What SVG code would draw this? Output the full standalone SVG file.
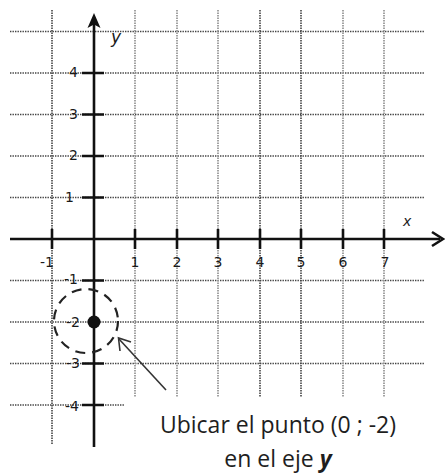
<svg xmlns="http://www.w3.org/2000/svg" width="445" height="475" viewBox="0 0 445 475">
<style>
.gd{stroke:#444;stroke-width:1.6;stroke-dasharray:1.4 1.1;fill:none}
.gl{stroke:#999;stroke-width:1.8;stroke-dasharray:1.4 1.1;fill:none}
.ax{stroke:#111;stroke-width:2.6;fill:none}
.tk{stroke:#111;stroke-width:2.6}
.num{font-family:"DejaVu Sans",Verdana,sans-serif;font-size:14px;fill:#1a1a1a}
.var{font-family:"DejaVu Sans",sans-serif;font-style:italic;fill:#1a1a1a}
.cap{font-family:"Open Sans","Liberation Sans",sans-serif;font-size:23px;fill:#1e1e1e}
</style>
<rect width="445" height="475" fill="#fff"/>
<g id="grid">
<path class="gd" d="M10 31.5H425M10 73H425M10 114.5H425M10 156H425M10 197.5H425M10 280.5H425M10 322H425M10 363.5H425M10 405H124"/>
<path class="gd" d="M52 10V445M260 10V397M301 10V397"/>
<path class="gl" d="M135 10V397M177 10V397M218 10V397M343 10V397M384 10V397"/>
</g>
<g id="axes">
<line class="ax" x1="94" y1="447" x2="94" y2="22"/>
<polygon points="94,13 87.5,28 94,24.5 100.5,28" fill="#111"/>
<line class="ax" x1="10" y1="239" x2="440" y2="239"/>
<polyline points="432,232 443,239 432,246" fill="none" stroke="#111" stroke-width="2.6"/>
<path class="tk" d="M82 73H104M82 114.5H104M82 156H104M82 197.5H104M82 280.5H104M82 363.5H104M82 405H104"/>
<path class="tk" d="M52 229V249M135 229V249M177 229V249M218 229V249M260 229V249M301 229V249M343 229V249M384 229V249"/>
</g>
<g id="labels">
<text class="num" x="78" y="77" text-anchor="end">4</text>
<text class="num" x="78" y="118.5" text-anchor="end">3</text>
<text class="num" x="78" y="160" text-anchor="end">2</text>
<text class="num" x="74" y="202" text-anchor="end">1</text>
<text class="num" x="78" y="284" text-anchor="end">-1</text>
<text class="num" x="80" y="327" text-anchor="end">-2</text>
<text class="num" x="80" y="368" text-anchor="end">-3</text>
<text class="num" x="79" y="411" text-anchor="end">-4</text>
<text class="num" x="54" y="267" text-anchor="end">-1</text>
<text class="num" x="135" y="267" text-anchor="middle">1</text>
<text class="num" x="177" y="267" text-anchor="middle">2</text>
<text class="num" x="218" y="267" text-anchor="middle">3</text>
<text class="num" x="260" y="267" text-anchor="middle">4</text>
<text class="num" x="301" y="267" text-anchor="middle">5</text>
<text class="num" x="343" y="267" text-anchor="middle">6</text>
<text class="num" x="385" y="267" text-anchor="middle">7</text>
<text class="var" x="111" y="43" font-size="17">y</text>
<text class="var" x="403" y="226" font-size="14">x</text>
</g>
<g id="point">
<circle cx="86" cy="321" r="32" fill="none" stroke="#222" stroke-width="2.2" stroke-dasharray="10 7"/>
<circle cx="94" cy="322" r="6.5" fill="#111"/>
</g>
<g id="connectors">
<line x1="166" y1="390" x2="119" y2="339" stroke="#333" stroke-width="1.6"/>
<polyline points="120,351 118.5,338 131,342" fill="none" stroke="#333" stroke-width="1.6"/>
</g>
<g id="caption">
<text class="cap" x="278" y="433" text-anchor="middle">Ubicar el punto (0 ; -2)</text>
<text class="cap" x="278" y="467" text-anchor="middle">en el eje <tspan font-weight="bold" font-style="italic">y</tspan></text>
</g>
</svg>
